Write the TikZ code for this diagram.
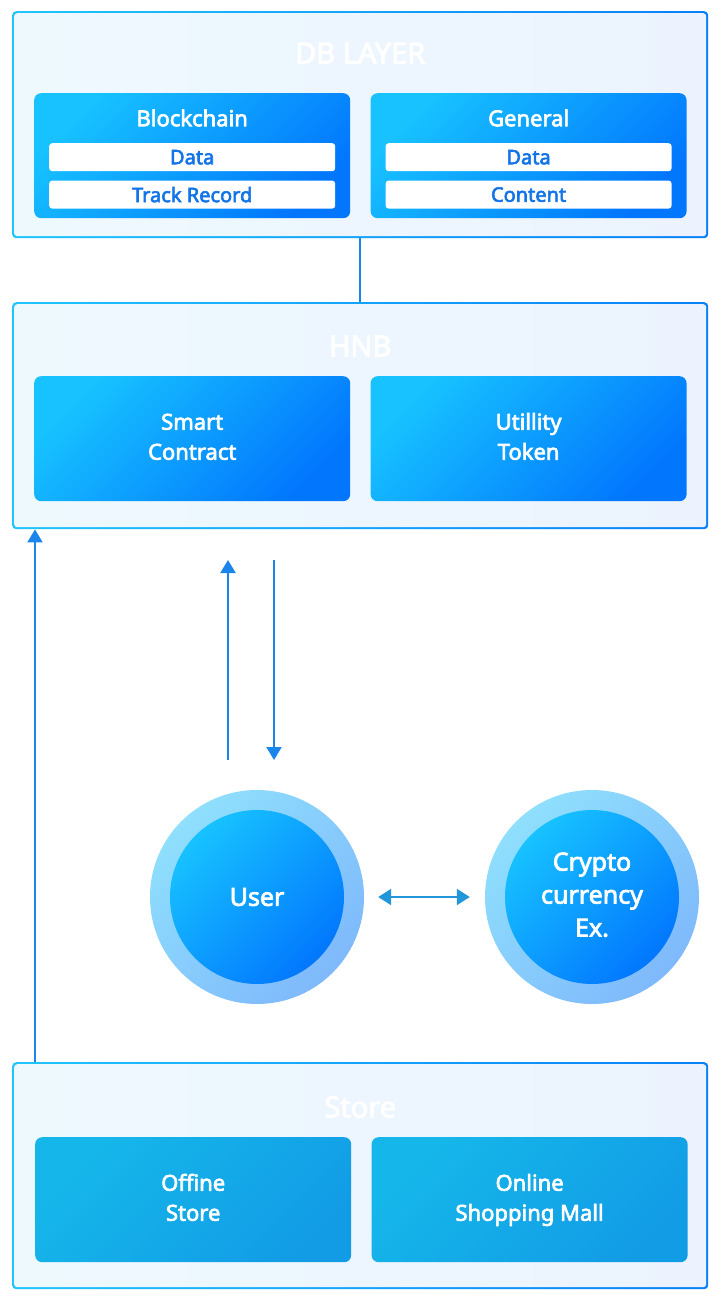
\documentclass[tikz,border=0pt]{standalone}
\usepackage{fontspec}
\setmainfont{Noto Sans}[FakeBold=3]
\usetikzlibrary{positioning,arrows.meta,calc}
\definecolor{edgecyan}{HTML}{1FC6FC}
\definecolor{edgeblue}{HTML}{0A80F8}
\definecolor{paleleft}{HTML}{EEF9FE}
\definecolor{paleright}{HTML}{ECF3FE}
\definecolor{cardtop}{HTML}{17C2FF}
\definecolor{cardbot}{HTML}{0277FE}
\definecolor{shoptop}{HTML}{15B7EA}
\definecolor{shopbot}{HTML}{129CE6}
\definecolor{ringtop}{HTML}{8FDFFD}
\definecolor{ringbot}{HTML}{7FB9FC}
\definecolor{barink}{HTML}{1374E8}
\definecolor{flow}{HTML}{1A86EC}
\definecolor{swap}{HTML}{2196D8}

\begin{document}
\begin{tikzpicture}[x=1pt, y=-1pt,
  layer/.style={anchor=north west, inner sep=0pt, minimum width=696pt, minimum height=227pt,
    rounded corners=4pt, fill=paleleft,
    path picture={
      \shade[left color=edgecyan, right color=edgeblue]
        (path picture bounding box.south west) rectangle (path picture bounding box.north east);
      \shade[left color=paleleft, right color=paleright, rounded corners=3pt]
        ([shift={(2pt,2pt)}]path picture bounding box.south west) rectangle
        ([shift={(-2pt,-2pt)}]path picture bounding box.north east);
    }},
  layertitle/.style={text=white, font=\fontsize{29}{32}\selectfont},
  card/.style={minimum width=316pt, minimum height=125pt, rounded corners=7pt, inner sep=0pt,
    top color=cardtop, bottom color=cardbot, shading angle=45,
    text=white, align=center, font=\fontsize{22}{30}\selectfont},
  shopcard/.style={card, top color=shoptop, bottom color=shopbot, shading angle=45},
  cardhead/.style={text=white, font=\fontsize{22}{26}\selectfont},
  bar/.style={fill=white, rounded corners=3pt, minimum width=286pt, minimum height=28pt,
    inner sep=0pt, text=barink, font=\fontsize{20}{24}\selectfont},
  ring/.style={circle, minimum size=214pt, inner sep=0pt,
    top color=ringtop, bottom color=ringbot, shading angle=45},
  orb/.style={circle, minimum size=174pt, inner sep=0pt,
    top color=cardtop, bottom color=cardbot, shading angle=45,
    text=white, align=center, font=\fontsize{25}{33}\selectfont},
  arr/.style={-{Triangle[length=13pt, width=15pt]}, line width=2pt, draw=flow},
  swaparr/.style={{Triangle[length=13pt, width=16pt]}-{Triangle[length=13pt, width=16pt]}, line width=2pt, draw=swap},
  link/.style={line width=1.6pt, draw=flow}
]
\fill[white] (0,0) rectangle (720,1300);
\useasboundingbox (0,0) rectangle (720,1300);

% db layer
\node[layer] (db) at (12,11) {};
\node[layertitle] (dbtitle) at ($(db.north)+(0,42)$) {DB LAYER};
\node[card, below right=82pt and 22pt of db.north west] (chain) {};
\node[card, right=20pt of chain] (general) {};
\node[cardhead] (chainhead) at ($(chain.north)+(0,25)$) {Blockchain};
\node[cardhead] (generalhead) at ($(general.north)+(0,25)$) {General};
\node[bar, below=50pt of chain.north] (chaindata) {Data};
\node[bar, below=9pt of chaindata] (chaintrack) {Track Record};
\node[bar, below=50pt of general.north] (generaldata) {Data};
\node[bar, below=9pt of generaldata] (generalcontent) {Content};

% hnb layer
\node[layer] (hnb) at (12,302) {};
\node[layertitle] (hnbtitle) at ($(hnb.north)+(0,44)$) {HNB};
\node[card, below right=74pt and 22pt of hnb.north west] (smart) {\strut Smart\\Contract\strut};
\node[card, right=20pt of smart] (token) {\strut Utillity\\Token\strut};

% user and exchange
\node[ring] (userring) at (257,897) {};
\node[orb] (user) at (userring) {User};
\node[ring] (cryptoring) at (592,897) {};
\node[orb] (crypto) at (cryptoring) {\strut Crypto\\currency\\Ex.\strut};

% store layer
\node[layer] (store) at (12,1062) {};
\node[layertitle] (storetitle) at ($(store.north)+(0,45)$) {Store};
\node[shopcard, below right=75pt and 23pt of store.north west] (offline) {\strut Offine\\Store\strut};
\node[shopcard, right=20pt of offline] (online) {\strut Online\\Shopping Mall\strut};

% connectors
\coordinate (upfoot) at (228,760);
\coordinate (uptip) at (228,560);
\coordinate (downtop) at (274,560);
\coordinate (downtip) at (274,760);
\coordinate (feed) at (35,1062);
\draw[link] (db.south) -- (hnb.north);
\draw[arr] (upfoot) -- (uptip);
\draw[arr] (downtop) -- (downtip);
\draw[arr] (feed) -- (feed |- hnb.south);
\draw[swaparr] ([xshift=14pt]userring.east) -- ([xshift=-15pt]cryptoring.west);
\end{tikzpicture}
\end{document}
